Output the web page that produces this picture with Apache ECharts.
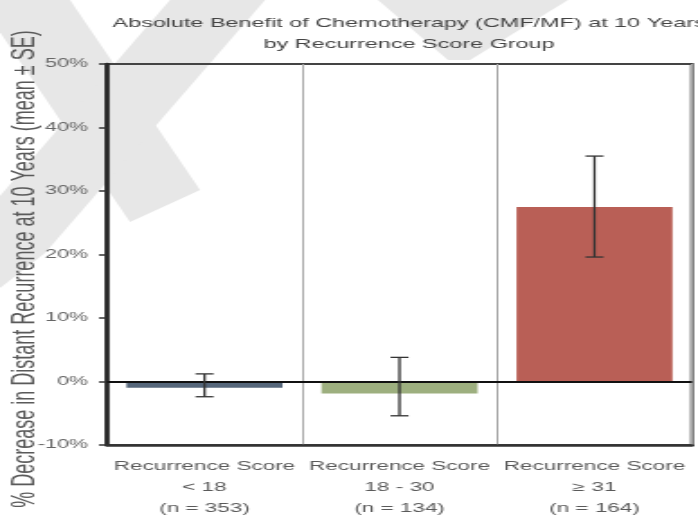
<!DOCTYPE html>
<html>
<head>
<meta charset="utf-8">
<script src="https://cdn.jsdelivr.net/npm/echarts@6/dist/echarts.min.js"></script>
<style>
  html, body { margin: 0; padding: 0; background: #fff; overflow: hidden; }
  /* the figure is laid out narrow and widened horizontally, like the original slide */
  #chart { width: 388px; height: 519px; transform: scaleX(1.79897); transform-origin: 0 0; }
</style>
</head>
<body>
<div id="chart"></div>
<script>
// Recurrence score groups
const categories = [
  'Recurrence Score\n< 18\n(n = 353)',
  'Recurrence Score\n18 - 30\n(n = 134)',
  'Recurrence Score\n≥ 31\n(n = 164)'
];
// Absolute decrease in distant recurrence at 10 years (%), mean
const benefit = [-1.0, -1.9, 27.5];
// mean - SE and mean + SE (%)
const seLow = [-2.4, -5.4, 19.6];
const seHigh = [1.2, 3.8, 35.5];
const barColors = ['#55667a', '#9daf7f', '#b95f56'];
const yMin = -10, yMax = 50, yStep = 10;

const SX = 1.79897; // horizontal widening of the whole figure
const wx = x => x / SX;

// light grey background watermark shapes (page pixels)
const watermark = [
  [[-22, 0], [70, 0], [200, 190], [130, 222]],
  [[170, 0], [265, 0], [45, 253], [0, 288], [0, 196]],
  [[378, 0], [568, 0], [470, 60], [448, 60]]
];

const chart = echarts.init(document.getElementById('chart'));

const errData = benefit.map((v, i) => [i, seLow[i], seHigh[i]]);
const FONT = 'Liberation Sans, Arial, sans-serif';

chart.setOption({
  animation: false,
  backgroundColor: '#fff',
  graphic: [
    ...watermark.map(pts => ({
      type: 'polygon', z: -10, silent: true,
      shape: { points: pts.map(p => [wx(p[0]), p[1]]) },
      style: { fill: '#e7e7e7' }
    })),
    {
      type: 'text', z: 10,
      x: wx(26), y: 269, rotation: Math.PI / 2,
      style: {
        text: '% Decrease in Distant Recurrence at 10 Years (mean ± SE)',
        fill: '#5a5a5a', fontSize: 18, fontFamily: FONT,
        align: 'center', verticalAlign: 'middle'
      }
    }
  ],
  title: {
    text: 'Absolute Benefit of Chemotherapy (CMF/MF) at 10 Years\nby Recurrence Score Group',
    left: wx(400), top: 8, textAlign: 'center',
    textStyle: { fontSize: 13, fontWeight: 'normal', color: '#444', lineHeight: 21, fontFamily: FONT }
  },
  grid: {
    left: wx(107), right: wx(6), top: 64, bottom: 72,
    show: true, borderColor: '#444', borderWidth: 2, backgroundColor: 'transparent'
  },
  xAxis: {
    type: 'category', data: categories,
    axisLine: { show: true, onZero: false, lineStyle: { color: '#333', width: 2.5 } },
    axisTick: { show: false },
    splitLine: { show: true, lineStyle: { color: '#a8a8a8', width: 1 } },
    axisLabel: { color: '#5a5a5a', fontSize: 12.5, lineHeight: 21, margin: 11, interval: 0, fontFamily: FONT }
  },
  yAxis: {
    type: 'value', min: yMin, max: yMax, interval: yStep,
    axisLine: { show: true, lineStyle: { color: '#222', width: 2.5 } },
    axisTick: { show: true, length: 4.5, lineStyle: { color: '#333', width: 1.5 } },
    splitLine: { show: false },
    axisLabel: { formatter: '{value}%', color: '#666', fontSize: 12, margin: 10.5, fontFamily: FONT }
  },
  series: [
    {
      type: 'bar', barCategoryGap: '20%',
      data: benefit.map((v, i) => ({ value: v, itemStyle: { color: barColors[i] } })),
      markLine: {
        silent: true, symbol: 'none', label: { show: false },
        lineStyle: { color: '#111', width: 2, type: 'solid' },
        data: [{ yAxis: 0 }]
      }
    },
    {
      type: 'custom', z: 5,
      data: errData,
      renderItem: (params, api) => {
        const x = api.value(0);
        const lo = api.coord([x, api.value(1)]);
        const hi = api.coord([x, api.value(2)]);
        const hw = 5;
        const st = { stroke: '#333', lineWidth: 1.3 };
        return {
          type: 'group',
          children: [
            { type: 'line', shape: { x1: lo[0], y1: lo[1], x2: hi[0], y2: hi[1] }, style: st },
            { type: 'line', shape: { x1: lo[0] - hw, y1: lo[1], x2: lo[0] + hw, y2: lo[1] }, style: st },
            { type: 'line', shape: { x1: hi[0] - hw, y1: hi[1], x2: hi[0] + hw, y2: hi[1] }, style: st }
          ]
        };
      }
    }
  ]
});
</script>
</body>
</html>
